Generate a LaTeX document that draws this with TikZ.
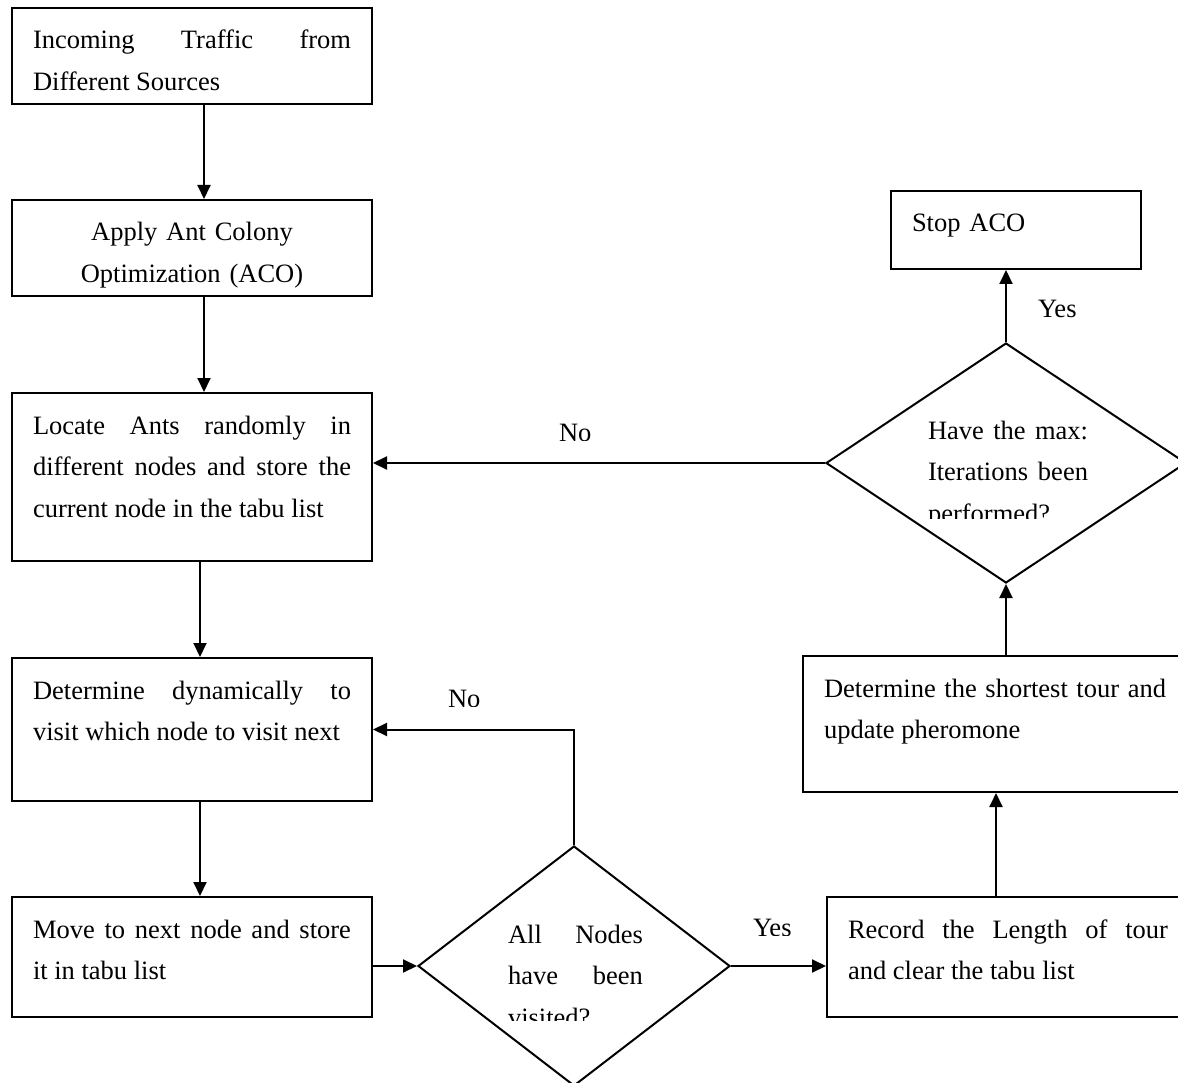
\documentclass[tikz,border=0pt]{standalone}
\usepackage{fontspec}
\setmainfont{Liberation Serif}
\usetikzlibrary{positioning,calc,arrows.meta,shapes.geometric}
\tolerance=10000
\hbadness=10000
\hyphenpenalty=10000

\begin{document}
\begin{tikzpicture}[x=1pt, y=-1pt, line width=2pt, >={Triangle[length=14pt, width=13pt]}]
	\clip (0,0) rectangle (1178,1083);
	\begin{scope}
		\tikzstyle{every node}=[font=\fontsize{26.5}{41.5}\selectfont, inner sep=0pt]
		\tikzstyle{stepbox}=[draw, anchor=north west, align=justify, inner xsep=21pt, text height=41pt]
		\tikzstyle{decision}=[draw, diamond, inner sep=0pt]
		\tikzstyle{question}=[anchor=north west, align=justify, text height=41pt]

		\node[stepbox, text width=318pt, text depth=55pt] (inc) at (11, 7) {Incoming Traffic from\linebreak Different Sources};
		\node[stepbox, text width=318pt, text depth=55pt, align=center] (aco) at (11, 199) {Apply Ant Colony\\Optimization (ACO)};
		\node[stepbox, text width=318pt, text depth=127pt] (locate) at (11, 392) {Locate Ants randomly in\linebreak different nodes and store the\linebreak current node in the tabu list};
		\node[stepbox, text width=318pt, text depth=102pt] (dyn) at (11, 657) {Determine dynamically to\linebreak visit which node to visit next};
		\node[stepbox, text width=318pt, text depth=79pt] (move) at (11, 896) {Move to next node and store\linebreak it in tabu list};

		\node[stepbox, text width=320pt, text depth=79pt] (record) at (826, 896) {Record the Length of tour\linebreak and clear the tabu list};
		\node[stepbox, text width=342pt, text depth=95pt] (shortest) at (802, 655) {Determine the shortest tour and\linebreak update pheromone};
		\node[stepbox, text width=208pt, text depth=37pt, align=left] (stop) at (890, 190) {Stop ACO};

		\node[decision, minimum width=312pt, minimum height=240pt] (alln) at (574, 966) {};
		\node[decision, minimum width=360pt, minimum height=240pt] (maxit) at (1006, 463) {};

		\begin{scope}
			\clip (490, 880) rectangle (660, 1020);
			\node[question, text width=135pt] (allntxt) at (507, 901) {All Nodes\linebreak have been\linebreak visited?};
		\end{scope}
		\begin{scope}
			\clip (910, 370) rectangle (1100, 518);
			\node[question, text width=160pt] (maxittxt) at (927, 397) {Have the max:\linebreak Iterations been\linebreak performed?};
		\end{scope}

		\draw [->] ([xshift=12pt]inc.south) to ([xshift=12pt]aco.north);
		\draw [->] ([xshift=12pt]aco.south) to ([xshift=12pt]locate.north);
		\draw [->] ([xshift=8pt]locate.south) to ([xshift=8pt]dyn.north);
		\draw [->] ([xshift=8pt]dyn.south) to ([xshift=8pt]move.north);
		\draw [->] (move.east |- alln) to (alln.west);
		\draw [->] (alln.north) |- (dyn.east);
		\draw [->] (alln.east) to (alln.east -| record.west);
		\draw [->] ([xshift=-12pt]record.north) to ([xshift=-12pt]record.north |- shortest.south);
		\draw [->] (shortest.north -| maxit.south) to (maxit.south);
		\draw [->] (maxit.north) to (maxit.north |- stop.south);
		\draw [->] (maxit.west) to (maxit.west -| locate.east);

		\begin{scope}
			\clip (530, 400) rectangle (620, 440);
			\node[anchor=base west] (no1) at (558, 441) {No};
		\end{scope}
		\begin{scope}
			\clip (420, 670) rectangle (500, 706);
			\node[anchor=base west] (no2) at (447, 707) {No};
		\end{scope}
		\begin{scope}
			\clip (730, 900) rectangle (810, 935);
			\node[anchor=base west] (yes1) at (752, 936) {Yes};
		\end{scope}
		\node[anchor=base west] (yes2) at (1037, 318) {Yes};
	\end{scope}
\end{tikzpicture}
\end{document}
